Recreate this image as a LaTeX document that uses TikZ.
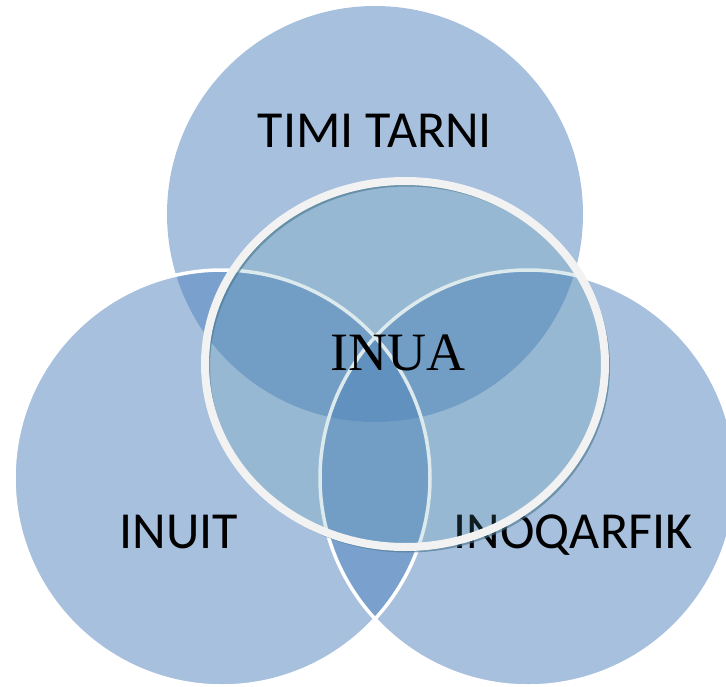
\documentclass[tikz,border=0pt]{standalone}
\usepackage{fontspec}
\setmainfont{Carlito}
\newfontfamily\inuafont{Liberation Serif}
\pgfdeclarelayer{background}
\pgfdeclarelayer{foreground}
\pgfsetlayers{background,main,foreground}
\definecolor{vennblue}{RGB}{79,129,189}
\definecolor{glassfill}{RGB}{87,152,167}
\definecolor{rimwhite}{RGB}{242,242,242}
\definecolor{rimshadow}{RGB}{70,118,140}
\tikzset{
  venndisc/.style={fill=vennblue,fill opacity=0.5},
  vennrim/.style={draw=white,line width=3.5},
  venntext/.style={anchor=base,inner sep=0pt,font=\fontsize{52}{60}\selectfont},
  inuatext/.style={anchor=base,inner sep=0pt,font=\inuafont\fontsize{54}{60}\selectfont}
}

\begin{document}
\begin{tikzpicture}[x=1pt,y=-1pt]
\useasboundingbox (0,0) rectangle (726,686);
\begin{pgfonlayer}{background}
\fill[venndisc] (375,214) circle (208);
\fill[venndisc] (222,478) circle (208);
\fill[venndisc] (528,478) circle (208);
\draw[vennrim] (222,478) circle (208);
\draw[vennrim] (528,478) circle (208);
\end{pgfonlayer}
\node[venntext] (timitarni) at (375,147) {TIMI TARNI};
\node[venntext] (inuit) at (179,548) {INUIT};
\node[venntext] (inoqarfik) at (573,548) {INOQARFIK};
\begin{pgfonlayer}{foreground}
\fill[glassfill,fill opacity=0.2] (405,364) ellipse (200 and 183);
\draw[rimshadow,line width=5,opacity=0.6] (407.5,367) ellipse (200 and 183);
\draw[rimwhite,line width=8] (405,364) ellipse (200 and 183);
\node[inuatext] (inua) at (398,370) {INUA};
\end{pgfonlayer}
\end{tikzpicture}
\end{document}
